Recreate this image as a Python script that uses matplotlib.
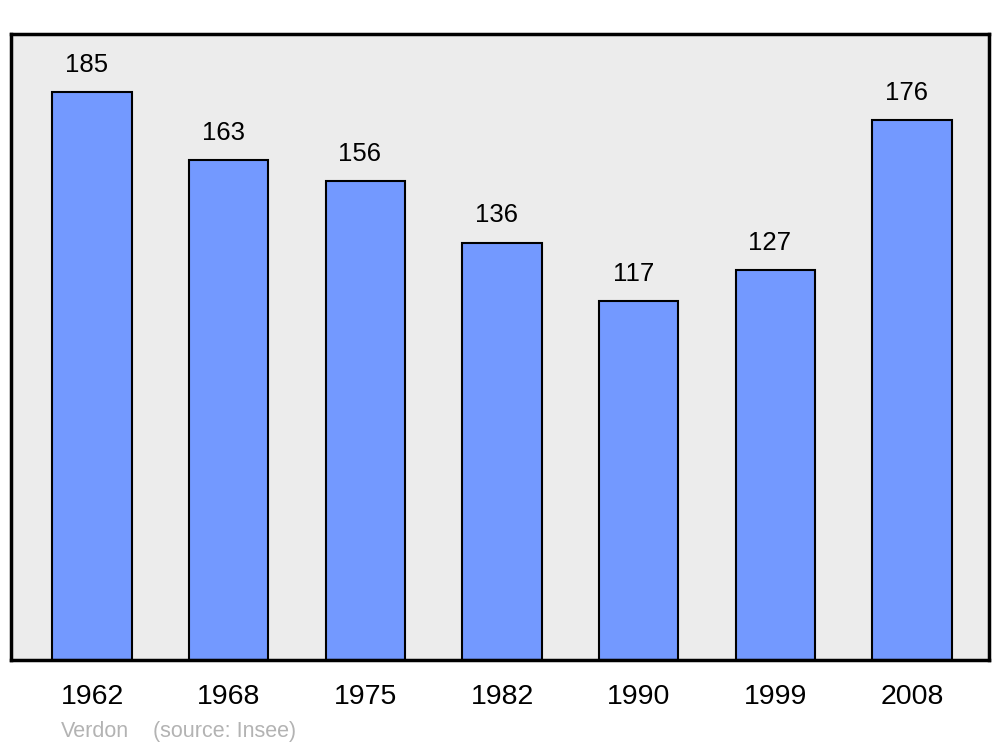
import matplotlib
matplotlib.use("Agg")
from matplotlib import pyplot as plt

years = ["1962", "1968", "1975", "1982", "1990", "1999", "2008"]
population = [185, 163, 156, 136, 117, 127, 176]

plt.rcParams['font.family'] = ['Liberation Sans', 'DejaVu Sans']

fig = plt.figure(figsize=(10, 7.47), dpi=100)
ax = fig.add_axes([11 / 1000, 1 - 660 / 747, 978 / 1000, 626 / 747])
ax.set_facecolor('#ececec')

x = range(len(years))
ax.bar(x, population, width=0.58, color='#7399ff', edgecolor='black', linewidth=1.5, zorder=2)

for i, v in zip(x, population):
    ax.annotate(str(v), (i, v), xytext=(-4, 11), textcoords='offset points',
                ha='center', va='bottom', fontsize=18.5)

ax.set_xlim(-0.593, 6.563)
ax.set_ylim(0, 204)
ax.set_xticks(list(x))
ax.set_xticklabels(years, fontsize=20.5)
ax.tick_params(axis='x', length=0, pad=17.5)
ax.set_yticks([])
for s in ax.spines.values():
    s.set_linewidth(2.5)

fig.text(61 / 1000, 1 - 737 / 747, "Verdon", color='#b3b3b3', fontsize=15.5, va='baseline')
fig.text(153 / 1000, 1 - 737 / 747, "(source: Insee)", color='#b3b3b3', fontsize=15.5, va='baseline')

fig.savefig('out.png', dpi=100)
